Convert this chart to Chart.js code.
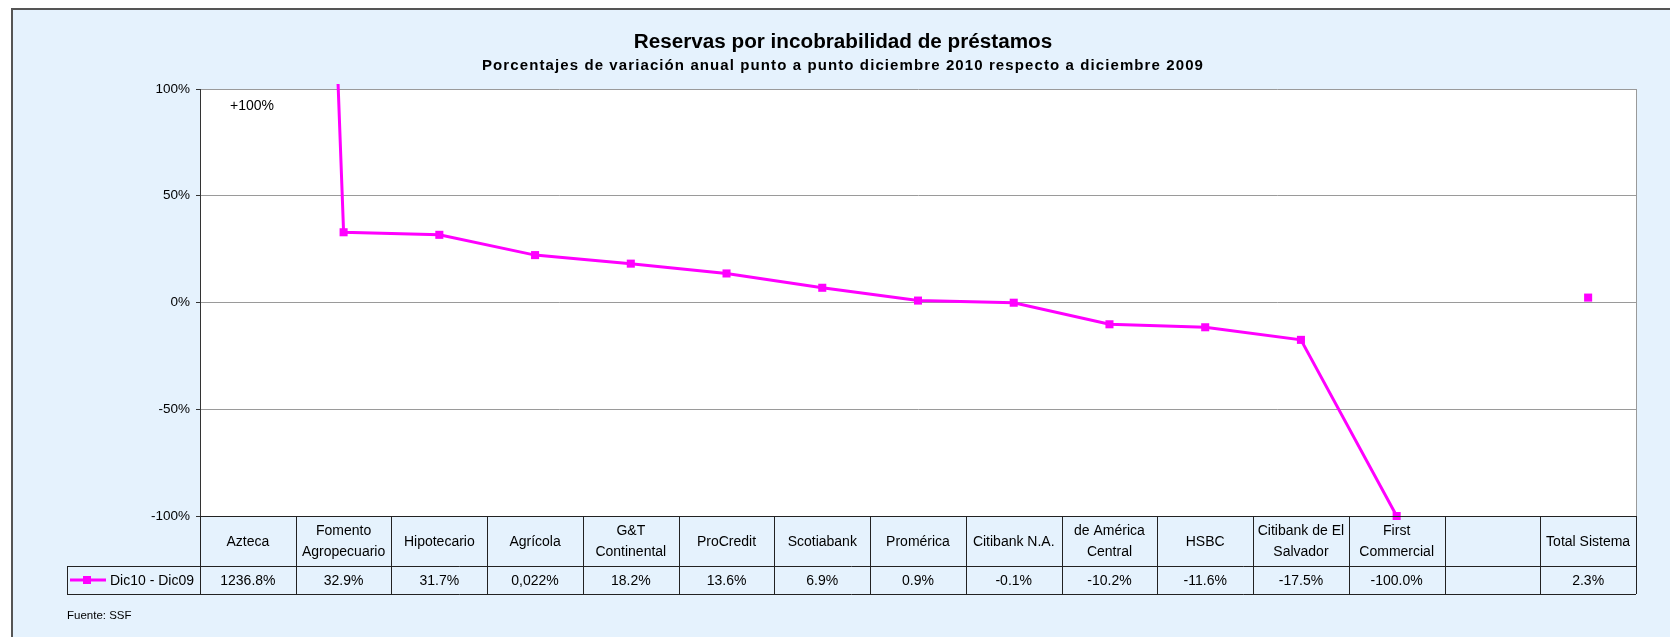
<!DOCTYPE html>
<html><head><meta charset="utf-8">
<script src="https://cdn.jsdelivr.net/npm/chart.js@4/dist/chart.umd.min.js"></script>
<style>html,body{margin:0;padding:0;background:#fff;}canvas{display:block}</style>
</head><body>
<canvas id="c" width="1670" height="637"></canvas>
<script>
// ---- data ----
const chartTitle = 'Reservas por incobrabilidad de préstamos';
const chartSubtitle = 'Porcentajes de variación anual punto a punto diciembre 2010 respecto a diciembre 2009';
const categories = ['Azteca', 'Fomento\nAgropecuario', 'Hipotecario', 'Agrícola', 'G&T\nContinental', 'ProCredit', 'Scotiabank', 'Promérica', 'Citibank N.A.', 'de América\nCentral', 'HSBC', 'Citibank de El\nSalvador', 'First\nCommercial', '', 'Total Sistema'];
const seriesName = 'Dic10 - Dic09';
const values = [1236.8, 32.9, 31.7, 22.2, 18.2, 13.6, 6.9, 0.9, -0.1, -10.2, -11.6, -17.5, -100.0, null, 2.3];
const valueLabels = ['1236.8%', '32.9%', '31.7%', '0,022%', '18.2%', '13.6%', '6.9%', '0.9%', '-0.1%', '-10.2%', '-11.6%', '-17.5%', '-100.0%', '', '2.3%'];
const yMin = -100, yMax = 100, yStep = 50;
const overflowNote = '+100%';
const sourceNote = 'Fuente: SSF';

// ---- styles ----
const MAGENTA = '#FF00FF';
const FRAME_BG = '#E5F2FD';
const FONT = '"Liberation Sans", Arial, sans-serif';

function hline(ctx, x1, x2, y) { ctx.beginPath(); ctx.moveTo(x1, Math.round(y) + 0.5); ctx.lineTo(x2, Math.round(y) + 0.5); ctx.stroke(); }
function vline(ctx, x, y1, y2) { ctx.beginPath(); ctx.moveTo(Math.round(x) + 0.5, y1); ctx.lineTo(Math.round(x) + 0.5, y2); ctx.stroke(); }

const frame = {
  id: 'frame',
  beforeDraw(chart) {
    const ctx = chart.ctx, ca = chart.chartArea;
    ctx.save();
    ctx.fillStyle = '#fff';
    ctx.fillRect(0, 0, chart.width, chart.height);
    ctx.fillStyle = FRAME_BG;
    ctx.fillRect(11, 8, chart.width - 11, chart.height - 8);
    ctx.strokeStyle = '#555';
    ctx.lineWidth = 2;
    ctx.beginPath(); ctx.moveTo(12, chart.height); ctx.lineTo(12, 9); ctx.lineTo(chart.width, 9); ctx.stroke();
    ctx.fillStyle = '#fff';
    ctx.fillRect(ca.left, ca.top, ca.right - ca.left, ca.bottom - ca.top);
    ctx.restore();
  },
  beforeDatasetsDraw(chart) {
    const ctx = chart.ctx, ca = chart.chartArea;
    ctx.save();
    ctx.strokeStyle = '#9a9a9a'; ctx.lineWidth = 1;
    vline(ctx, ca.right, ca.top, ca.bottom);
    ctx.restore();
  },
  afterDraw(chart) {
    const ctx = chart.ctx, ca = chart.chartArea, xs = chart.scales.x;
    ctx.save();
    // titles
    ctx.fillStyle = '#000';
    ctx.textAlign = 'center';
    ctx.textBaseline = 'middle';
    ctx.font = 'bold 20.7px ' + FONT;
    ctx.fillText(chartTitle, 843, 42);
    ctx.font = 'bold 15px ' + FONT;
    ctx.letterSpacing = '1.1px';
    ctx.fillText(chartSubtitle, 843, 66);
    ctx.letterSpacing = '0px';
    // overflow note
    ctx.font = '14px ' + FONT;
    ctx.fillText(overflowNote, 252, 106);
    // table
    const n = categories.length;
    const L = ca.left, R = ca.right, T = ca.bottom;
    const w = (R - L) / n;
    const hB = T + 50, dB = hB + 28, legL = 67;
    ctx.strokeStyle = '#222'; ctx.lineWidth = 1;
    hline(ctx, L, R, T);
    hline(ctx, legL, R, hB);
    hline(ctx, legL, R, dB);
    vline(ctx, legL, hB, dB);
    for (let i = 0; i <= n; i++) vline(ctx, L + i * w, T, dB);
    ctx.font = '14px ' + FONT;
    ctx.fillStyle = '#000';
    categories.forEach((c, i) => {
      const cx = xs.getPixelForValue(i);
      const lines = c.split('\n');
      const mid = (T + hB) / 2 + 1;
      const lh = 21;
      lines.forEach((ln, k) => ctx.fillText(ln, cx, mid + (k - (lines.length - 1) / 2) * lh));
      ctx.fillText(valueLabels[i], cx, (hB + dB) / 2 + 1);
    });
    // legend key
    const ly = (hB + dB) / 2;
    ctx.strokeStyle = MAGENTA; ctx.lineWidth = 3;
    ctx.beginPath(); ctx.moveTo(70, ly); ctx.lineTo(106, ly); ctx.stroke();
    ctx.fillStyle = MAGENTA; ctx.fillRect(83, ly - 4, 8, 8);
    ctx.fillStyle = '#000'; ctx.textAlign = 'left';
    ctx.fillText(seriesName, 110, ly + 1);
    // source
    ctx.font = '11.5px ' + FONT;
    ctx.fillText(sourceNote, 67, 616);
    ctx.restore();
  }
};

new Chart(document.getElementById('c'), {
  type: 'line',
  data: {
    labels: categories,
    datasets: [{
      label: seriesName,
      data: values,
      borderColor: MAGENTA,
      backgroundColor: MAGENTA,
      borderWidth: 3,
      pointStyle: 'rect',
      pointRadius: 5.7,
      pointHoverRadius: 5.7,
      pointBorderWidth: 0,
      tension: 0,
      spanGaps: false,
      clip: { left: 10, top: 5, right: 10, bottom: 10 }
    }]
  },
  options: {
    responsive: false,
    animation: false,
    events: [],
    layout: { padding: { left: 0, top: 89, right: 34, bottom: 121 } },
    plugins: { legend: { display: false }, title: { display: false }, tooltip: { enabled: false } },
    scales: {
      x: { type: 'category', offset: true, display: false },
      y: {
        min: yMin, max: yMax,
        afterFit(scale) { scale.width = 200; },
        ticks: { stepSize: yStep, color: '#000', padding: 6, font: { family: FONT, size: 13.5 }, callback: v => v + '%' },
        grid: { color: '#9a9a9a', lineWidth: 1, tickLength: 4, tickColor: '#333' },
        border: { display: true, color: '#333', width: 1 }
      }
    }
  },
  plugins: [frame]
});
</script>
</body></html>
